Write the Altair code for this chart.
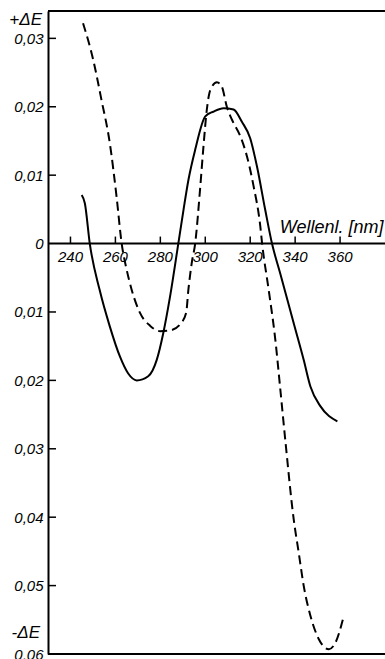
import altair as alt
import pandas as pd

# Solid curve (wavelength nm, delta E)
solid_wl = [245, 246.4, 248.6, 253, 257.5, 262, 265.7, 269.5, 274.6, 278.4, 281.3,
            284.3, 288, 290.3, 292.5, 295.5, 300, 303.7, 308.1, 312.6, 316.3, 320,
            323, 326.7, 329.7, 333.4, 339.4, 343.8, 346.8, 351.3, 358.8]
solid_de = [0.0071, 0.0059, 0.0, -0.0068, -0.0121, -0.0165, -0.019, -0.020, -0.0194,
            -0.017, -0.0131, -0.0078, 0.0, 0.0049, 0.0093, 0.0137, 0.0186, 0.0193,
            0.0198, 0.0196, 0.0178, 0.0154, 0.0113, 0.0049, 0.0, -0.0044, -0.0117,
            -0.017, -0.0209, -0.0238, -0.026]

# Dashed curve
dash_wl = [245.6, 250.1, 253.8, 257.5, 260.5, 262.8, 265, 267.2, 270.9, 275.4, 279.9,
           284.3, 288.8, 291.5, 292.5, 294, 295.5, 297.7, 299.2, 300.7, 302.2, 305.2,
           307.4, 309.6, 311.9, 315.6, 318.6, 321.5, 324.5, 325.3, 328.2, 331.2,
           333.4, 335.7, 339.4, 341.6, 343.8, 346.8, 350.5, 355, 358, 361.7]
dash_de = [0.0322, 0.0269, 0.021, 0.0147, 0.0069, 0.0, -0.0038, -0.0067, -0.0101,
           -0.012, -0.0128, -0.0127, -0.0118, -0.0101, -0.0067, -0.0028, 0.0, 0.008,
           0.0142, 0.0196, 0.0224, 0.0236, 0.0229, 0.02, 0.0181, 0.0157, 0.0127,
           0.0084, 0.0025, 0.0, -0.0067, -0.0141, -0.0213, -0.029, -0.0404, -0.0452,
           -0.05, -0.0544, -0.0578, -0.0593, -0.0583, -0.0544]

x_ticks = [240, 260, 280, 300, 320, 340, 360]
y_ticks = [-0.06, -0.05, -0.04, -0.03, -0.02, -0.01, 0.0, 0.01, 0.02, 0.03]
y_tick_marks = [-0.05, -0.04, -0.03, -0.02, -0.01, 0.01, 0.02, 0.03]

X_DOMAIN = [230, 380]
Y_DOMAIN = [-0.06, 0.034]
FONT = "Liberation Sans"

xs = alt.Scale(domain=X_DOMAIN, nice=False, zero=False)
ys = alt.Scale(domain=Y_DOMAIN, nice=False, zero=False)

df_solid = pd.DataFrame({"wl": solid_wl, "de": solid_de})
df_dash = pd.DataFrame({"wl": dash_wl, "de": dash_de})
df_xt = pd.DataFrame({"wl": x_ticks, "label": [str(v) for v in x_ticks]})
df_yt = pd.DataFrame({"de": y_tick_marks})
df_frame = pd.DataFrame({"de": Y_DOMAIN})

yaxis = alt.Axis(
    values=y_ticks, ticks=False, grid=False, title=None,
    domainColor="black", domainWidth=2,
    labelFont=FONT, labelFontStyle="italic", labelFontSize=15, labelColor="black",
    labelPadding=5,
    labelExpr="datum.value == 0 ? '0' : replace(format(abs(datum.value), '.2f'), '.', ',')",
)

solid = alt.Chart(df_solid).mark_line(
    color="black", strokeWidth=2, interpolate="monotone"
).encode(
    x=alt.X("wl:Q", scale=xs, axis=None),
    y=alt.Y("de:Q", scale=ys, axis=yaxis),
)

dashed = alt.Chart(df_dash).mark_line(
    color="black", strokeWidth=2, strokeDash=[9, 5], interpolate="monotone"
).encode(
    x=alt.X("wl:Q", scale=xs),
    y=alt.Y("de:Q", scale=ys),
)

frame = alt.Chart(df_frame).mark_rule(color="black", strokeWidth=2).encode(
    y=alt.Y("de:Q", scale=ys),
    x=alt.value(0), x2=alt.value(337),
)

zero_line = alt.Chart(pd.DataFrame({"de": [0.0]})).mark_rule(
    color="black", strokeWidth=2
).encode(
    y=alt.Y("de:Q", scale=ys),
    x=alt.value(0), x2=alt.value(337),
)

xticks = alt.Chart(df_xt).mark_rule(color="black", strokeWidth=1.5, y2Offset=-7).encode(
    x=alt.X("wl:Q", scale=xs),
    y=alt.datum(0.0, scale=ys) if False else alt.YDatum(0.0),
    y2=alt.Y2Datum(0.0),
)

xlabels = alt.Chart(df_xt).mark_text(
    font=FONT, fontStyle="italic", fontSize=15, baseline="top", align="center", dy=6,
    color="black",
).encode(
    x=alt.X("wl:Q", scale=xs),
    y=alt.YDatum(0.0),
    text="label:N",
)

yticks = alt.Chart(df_yt).mark_rule(color="black", strokeWidth=1.5).encode(
    y=alt.Y("de:Q", scale=ys),
    x=alt.value(0), x2=alt.value(8),
)

xtitle = alt.Chart(pd.DataFrame({"t": ["Wellenl. [nm]"]})).mark_text(
    font=FONT, fontStyle="italic", fontSize=18, align="right", baseline="alphabetic",
    dy=-11, color="black",
).encode(
    x=alt.XDatum(379.3),
    y=alt.YDatum(0.0),
    text="t:N",
)

plus_de = alt.Chart(pd.DataFrame({"t": ["+ΔE"]})).mark_text(
    font=FONT, fontStyle="italic", fontSize=17, align="right", baseline="alphabetic",
    color="black",
).encode(x=alt.value(-6), y=alt.value(14), text="t:N")

minus_de = alt.Chart(pd.DataFrame({"t": ["-ΔE"]})).mark_text(
    font=FONT, fontStyle="italic", fontSize=17, align="right", baseline="alphabetic",
    color="black",
).encode(x=alt.value(-8), y=alt.value(627), text="t:N")

chart = alt.layer(
    solid, dashed, frame, zero_line, xticks, xlabels, yticks, xtitle, plus_de, minus_de
).properties(
    width=337, height=643,
    autosize=alt.AutoSizeParams(type="none"),
    padding={"left": 48, "top": 11, "right": 0, "bottom": 5},
    background="white",
).configure_view(stroke=None)

chart.save("out.html", embed_options={"renderer": "svg", "actions": False})
